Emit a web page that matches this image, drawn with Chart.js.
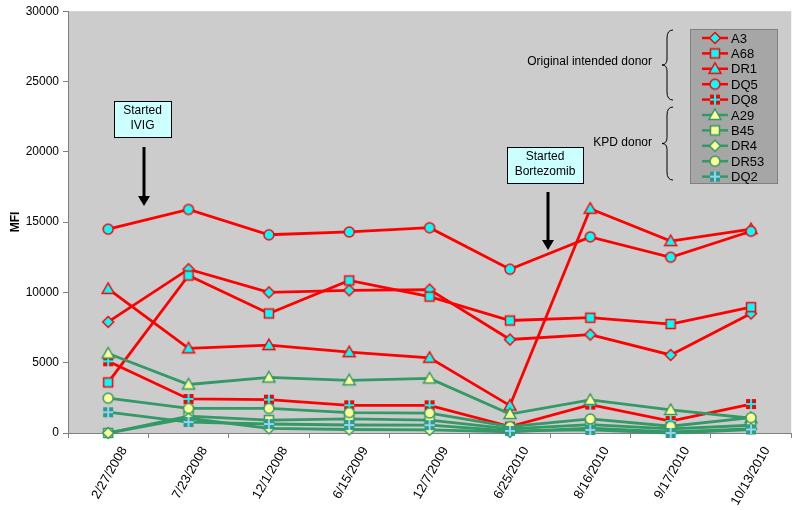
<!DOCTYPE html>
<html>
<head>
<meta charset="utf-8">
<script src="https://cdn.jsdelivr.net/npm/chart.js@4.4.0/dist/chart.umd.min.js"></script>
<style>
  html, body { margin: 0; padding: 0; background: #fff; }
  canvas { display: block; }
</style>
</head>
<body>
<canvas id="myChart" width="800" height="510"></canvas>
<script>
// chart values
const dates = ["2/27/2008", "7/23/2008", "12/1/2008", "6/15/2009", "12/7/2009", "6/25/2010", "8/16/2010", "9/17/2010", "10/13/2010"];
const yTicks = [0, 5000, 10000, 15000, 20000, 25000, 30000];

const A3 = [7900, 11650, 10000, 10150, 10200, 6650, 7000, 5550, 8500];
const A68 = [3600, 11200, 8500, 10850, 9700, 8000, 8200, 7750, 8950];
const DR1 = [10250, 6020, 6250, 5750, 5350, 1950, 15950, 13650, 14500];
const DQ5 = [14500, 15900, 14100, 14300, 14600, 11650, 13950, 12500, 14350];
const DQ8 = [5100, 2420, 2370, 1970, 1970, 450, 2020, 850, 2060];
const A29 = [5650, 3450, 3950, 3750, 3880, 1350, 2350, 1640, 1050];
const B45 = [0, 1200, 920, 1000, 920, 300, 600, 300, 550];
const DR4 = [0, 1050, 330, 250, 220, 80, 350, 80, 300];
const DR53 = [2480, 1750, 1750, 1450, 1420, 450, 1000, 480, 1090];
const DQ2 = [1480, 780, 640, 570, 560, 150, 220, 0, 250];

const RED = "#ff0000";
const CYAN = "#00ffff";
const GREEN = "#339966";
const YELLOW = "#ffff99";
const FONT = "Liberation Sans, Arial, sans-serif";

// small canvases used as point markers
function makeMarker(shape, fill, stroke) {
  const c = document.createElement("canvas");
  c.width = 16;
  c.height = 16;
  const g = c.getContext("2d");
  g.fillStyle = fill;
  g.strokeStyle = stroke;
  g.lineWidth = 1.5;
  if (shape === "plus") {
    g.fillRect(3, 3, 10, 10);
    g.fillStyle = stroke;
    g.fillRect(7, 3, 2, 10);
    g.fillRect(3, 7, 10, 2);
    return c;
  }
  g.beginPath();
  if (shape === "circle") g.arc(8, 8, 5, 0, Math.PI * 2);
  else if (shape === "square") g.rect(3.5, 3.5, 9, 9);
  else if (shape === "diamond") {
    g.moveTo(8, 2.5); g.lineTo(13.5, 8); g.lineTo(8, 13.5); g.lineTo(2.5, 8); g.closePath();
  } else if (shape === "triangle") {
    g.moveTo(8, 2); g.lineTo(14, 12.5); g.lineTo(2, 12.5); g.closePath();
  }
  g.fill();
  g.stroke();
  return c;
}

const series = [
  { label: "A3", data: A3, color: RED, marker: makeMarker("diamond", CYAN, RED) },
  { label: "A68", data: A68, color: RED, marker: makeMarker("square", CYAN, RED) },
  { label: "DR1", data: DR1, color: RED, marker: makeMarker("triangle", CYAN, RED) },
  { label: "DQ5", data: DQ5, color: RED, marker: makeMarker("circle", CYAN, RED) },
  { label: "DQ8", data: DQ8, color: RED, marker: makeMarker("plus", RED, CYAN) },
  { label: "A29", data: A29, color: GREEN, marker: makeMarker("triangle", YELLOW, GREEN) },
  { label: "B45", data: B45, color: GREEN, marker: makeMarker("square", YELLOW, GREEN) },
  { label: "DR4", data: DR4, color: GREEN, marker: makeMarker("diamond", YELLOW, GREEN) },
  { label: "DR53", data: DR53, color: GREEN, marker: makeMarker("circle", YELLOW, GREEN) },
  { label: "DQ2", data: DQ2, color: GREEN, marker: makeMarker("plus", "#2f9a86", "#8fd3f5") },
];

const datasets = series.map((s, i) => ({
  label: s.label,
  data: s.data,
  borderColor: s.color,
  backgroundColor: s.color,
  borderWidth: 2.8,
  pointStyle: s.marker,
  pointRadius: 6,
  tension: 0,
  clip: false,
  order: series.length - i, // later series on top, like the original
}));

function drawArrow(ctx, x, y1, y2) {
  ctx.strokeStyle = "#000";
  ctx.fillStyle = "#000";
  ctx.lineWidth = 3;
  ctx.beginPath();
  ctx.moveTo(x, y1);
  ctx.lineTo(x, y2 - 8);
  ctx.stroke();
  ctx.beginPath();
  ctx.moveTo(x - 6, y2 - 10);
  ctx.lineTo(x + 6, y2 - 10);
  ctx.lineTo(x, y2);
  ctx.closePath();
  ctx.fill();
}

function drawNote(ctx, x, y, w, h, lines) {
  ctx.fillStyle = "#ccffff";
  ctx.fillRect(x, y, w, h);
  ctx.strokeStyle = "#000";
  ctx.lineWidth = 1;
  ctx.strokeRect(x + 0.5, y + 0.5, w, h);
  ctx.fillStyle = "#000";
  ctx.font = "12px " + FONT;
  ctx.textAlign = "center";
  ctx.textBaseline = "middle";
  lines.forEach((t, i) => ctx.fillText(t, x + w / 2, y + 10 + i * 15));
}

function drawBrace(ctx, x, y1, y2) {
  const mid = (y1 + y2) / 2;
  ctx.strokeStyle = "#000";
  ctx.lineWidth = 1;
  ctx.beginPath();
  ctx.moveTo(x + 6, y1);
  ctx.quadraticCurveTo(x, y1, x, y1 + 8);
  ctx.lineTo(x, mid - 6);
  ctx.quadraticCurveTo(x, mid, x - 5, mid);
  ctx.quadraticCurveTo(x, mid, x, mid + 6);
  ctx.lineTo(x, y2 - 8);
  ctx.quadraticCurveTo(x, y2, x + 6, y2);
  ctx.stroke();
}

const decorations = {
  id: "decorations",
  beforeDraw: (chart) => {
    const { ctx, chartArea } = chart;
    ctx.save();
    ctx.fillStyle = "#cccccc";
    ctx.fillRect(chartArea.left, chartArea.top, chartArea.right - chartArea.left, chartArea.bottom - chartArea.top);
    ctx.restore();
  },
  afterDraw: (chart) => {
    const ctx = chart.ctx;
    ctx.save();

    // y axis title
    ctx.fillStyle = "#000";
    ctx.font = "bold 12px " + FONT;
    ctx.textAlign = "center";
    ctx.textBaseline = "middle";
    ctx.translate(16, 222);
    ctx.rotate(-Math.PI / 2);
    ctx.fillText("MFI", 0, 0);
    ctx.setTransform(1, 0, 0, 1, 0, 0);

    // notes and arrows
    drawNote(ctx, 114, 101, 57, 36, ["Started", "IVIG"]);
    drawArrow(ctx, 144, 147, 206);
    drawNote(ctx, 507, 147, 76, 36, ["Started", "Bortezomib"]);
    drawArrow(ctx, 548, 192, 250);

    // legend box
    ctx.fillStyle = "#a6a6a6";
    ctx.fillRect(690, 29, 87, 154);
    ctx.strokeStyle = "#808080";
    ctx.lineWidth = 1;
    ctx.strokeRect(690.5, 29.5, 87, 154);
    series.forEach((s, i) => {
      const y = 38 + i * 15.4;
      ctx.strokeStyle = s.color;
      ctx.lineWidth = 2.5;
      ctx.beginPath();
      ctx.moveTo(702, y);
      ctx.lineTo(728, y);
      ctx.stroke();
      ctx.drawImage(s.marker, 715 - 8, y - 8);
      ctx.fillStyle = "#000";
      ctx.font = "13px " + FONT;
      ctx.textAlign = "left";
      ctx.fillText(s.label, 731, y + 1);
    });

    // group braces and their labels
    drawBrace(ctx, 667, 30, 100);
    drawBrace(ctx, 667, 107, 180);
    ctx.fillStyle = "#000";
    ctx.font = "12px " + FONT;
    ctx.textAlign = "right";
    ctx.fillText("Original intended donor", 652, 62);
    ctx.fillText("KPD donor", 652, 143);

    ctx.restore();
  },
};

const ctx = document.getElementById("myChart");
new Chart(ctx, {
  type: "line",
  data: { labels: dates, datasets: datasets },
  options: {
    responsive: false,
    animation: false,
    layout: { padding: { top: 11, right: 8, left: 0, bottom: 0 } },
    plugins: {
      legend: { display: false },
      tooltip: { enabled: false },
    },
    scales: {
      x: {
        offset: true,
        afterFit: (scale) => { scale.height = 77; },
        grid: {
          offset: true,
          drawOnChartArea: false,
          tickLength: 5,
          color: "#808080",
        },
        border: { color: "#808080" },
        ticks: {
          color: "#000",
          font: { family: FONT, size: 13 },
          minRotation: 60,
          maxRotation: 60,
          padding: 6,
          labelOffset: 16,
          autoSkip: false,
        },
      },
      y: {
        min: yTicks[0],
        max: yTicks[yTicks.length - 1],
        afterFit: (scale) => { scale.width = 68; },
        afterBuildTicks: (scale) => { scale.ticks = yTicks.map((v) => ({ value: v })); },
        grid: {
          drawOnChartArea: false,
          tickLength: 5,
          color: "#808080",
        },
        border: { color: "#808080" },
        ticks: {
          color: "#000",
          font: { family: FONT, size: 12 },
          padding: 4,
          callback: (v) => String(v),
        },
      },
    },
  },
  plugins: [decorations],
});
</script>
</body>
</html>
